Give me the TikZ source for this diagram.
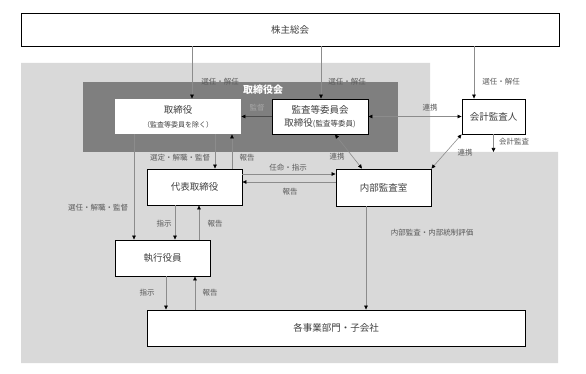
\documentclass[tikz,border=0pt]{standalone}
\usepackage{fontspec}
\setmainfont{Noto Sans CJK JP}
\usetikzlibrary{positioning,arrows.meta,calc}
\definecolor{zoneLight}{HTML}{D9D9D9}
\definecolor{zoneDark}{HTML}{7F7F7F}
\definecolor{boxText}{HTML}{404040}
\definecolor{lineCol}{HTML}{8C8C8C}
\definecolor{lblCol}{HTML}{595959}
\definecolor{lblDark}{HTML}{A6A6A6}

\begin{document}
\begin{tikzpicture}[
  x=1pt, y=-1pt,
  font=\fontsize{9.5}{11}\selectfont,
  box/.style={draw=black, line width=0.9pt, fill=white, text=boxText, align=center,
              inner sep=0pt},
  flow/.style={-{Triangle[length=4pt,width=3.6pt,color=black]}, line width=0.6pt, draw=lineCol},
  both/.style={{Triangle[length=4pt,width=3.6pt,color=black]}-{Triangle[length=4pt,width=3.6pt,color=black]},
               line width=0.6pt, draw=lineCol},
  lbl/.style={font=\fontsize{7.5}{8}\selectfont, text=lblCol, inner sep=1pt},
]
\useasboundingbox (0,0) rectangle (586,374);

% ---- Fondos ----
\fill[zoneLight] (21,63) -- (430,63) -- (430,152) -- (558,152) -- (558,363) -- (21,363) -- cycle;
\fill[zoneDark] (83,82) rectangle (398,152);
\node[font=\fontsize{10}{11}\selectfont\bfseries, text=white] (bdtitle) at (263,90) {取締役会};

% ---- Cajas ----
\node[box, minimum width=538pt, minimum height=33pt] (kabu) at (290,29.5) {株主総会};
\node[box, draw=none, minimum width=126pt, minimum height=35pt] (tori) at (178,116.5)
  {取締役\\[3pt]{\fontsize{7}{8}\selectfont（監査等委員を除く）}};
\node[box, minimum width=96pt, minimum height=35pt] (kansa) at (320,116.5)
  {監査等委員会\\[2pt]取締役{\fontsize{7.5}{8}\selectfont(監査等委員)}};
\node[box, minimum width=63pt, minimum height=35pt] (kaikei) at (493.5,116.5) {会計監査人};
\node[box, minimum width=95pt, minimum height=36pt] (daihyo) at (194.5,187) {代表取締役};
\node[box, minimum width=95pt, minimum height=37pt] (naibu) at (383.5,187.5) {内部監査室};
\node[box, minimum width=95pt, minimum height=36pt] (shikko) at (162.5,258) {執行役員};
\node[box, minimum width=378pt, minimum height=36pt] (jigyo) at (336,328) {各事業部門・子会社};

% ---- Flechas desde 株主総会 ----
\draw[flow] ([xshift=14pt]tori.north |- kabu.south) -- ([xshift=14pt]tori.north);
\draw[flow] ([xshift=1pt]kansa.north |- kabu.south) -- ([xshift=1pt]kansa.north);
\draw[flow] ([xshift=-19.5pt]kaikei.north |- kabu.south) -- ([xshift=-19.5pt]kaikei.north);

% ---- 監督・連携 ----
\draw[flow, draw=black!70] (kansa.west) -- (tori.east);
\draw[both] (kansa.east) -- (kaikei.west);
\draw[both] ([xshift=15pt]kansa.south) -- ([xshift=-21.5pt]naibu.north);
\draw[both] (kaikei.south west) -- (naibu.north east);
\coordinate (auditend) at (kaikei.south |- 0,152);
\draw[flow] (kaikei.south) -- (auditend);

% ---- 取締役 → 代表取締役・執行役員 ----
\draw[flow] ([xshift=20.5pt]daihyo.north |- tori.south) -- ([xshift=20.5pt]daihyo.north);
\draw[flow] ([xshift=37.5pt]daihyo.north) -- ([xshift=37.5pt]daihyo.north |- tori.south);
\draw[flow] ([xshift=-44pt]tori.south) -- ([xshift=-44pt]tori.south |- shikko.north);

% ---- 代表取締役 ↔ 内部監査室 ----
\draw[flow] ([yshift=13pt]daihyo.east) -- ([yshift=13pt]daihyo.east -| naibu.west);
\draw[flow] ([yshift=5pt]daihyo.east -| naibu.west) -- ([yshift=5pt]daihyo.east);

% ---- 指示・報告 ----
\draw[flow] ([xshift=-19.5pt]daihyo.south) -- ([xshift=-19.5pt]daihyo.south |- shikko.north);
\draw[flow] ([xshift=4.5pt]daihyo.south |- shikko.north) -- ([xshift=4.5pt]daihyo.south);
\draw[flow] ([xshift=3.5pt]shikko.south) -- ([xshift=3.5pt]shikko.south |- jigyo.north);
\draw[flow] ([xshift=32.5pt]shikko.south |- jigyo.north) -- ([xshift=32.5pt]shikko.south);
\draw[flow] ([xshift=-17.5pt]naibu.south) -- ([xshift=-17.5pt]naibu.south |- jigyo.north);

% ---- Etiquetas ----
\node[lbl] (lsel1) at (220,82) {選任・解任};
\node[lbl] (lsel2) at (347,82) {選任・解任};
\node[lbl] (lsel3) at (501,82) {選任・解任};
\node[lbl, text=lblDark] (lkan) at (257,108) {監督};
\node[lbl] (lren1) at (430,108) {連携};
\node[lbl] (lren2) at (337,157) {連携};
\node[lbl] (lren3) at (465,153) {連携};
\node[lbl] (lacc)  at (514,142) {会計監査};
\node[lbl] (lsen)  at (180,158) {選定・解職・監督};
\node[lbl] (lhou1) at (247,158) {報告};
\node[lbl] (lsen2) at (98,208) {選任・解職・監督};
\node[lbl] (lnin)  at (288,168) {任命・指示};
\node[lbl] (lhou2) at (290,192) {報告};
\node[lbl] (lshi1) at (164,224) {指示};
\node[lbl] (lhou3) at (215,224) {報告};
\node[lbl] (lshi2) at (147,293) {指示};
\node[lbl] (lhou4) at (210,293) {報告};
\node[lbl] (lnai)  at (432,233) {内部監査・内部統制評価};

\end{tikzpicture}
\end{document}
